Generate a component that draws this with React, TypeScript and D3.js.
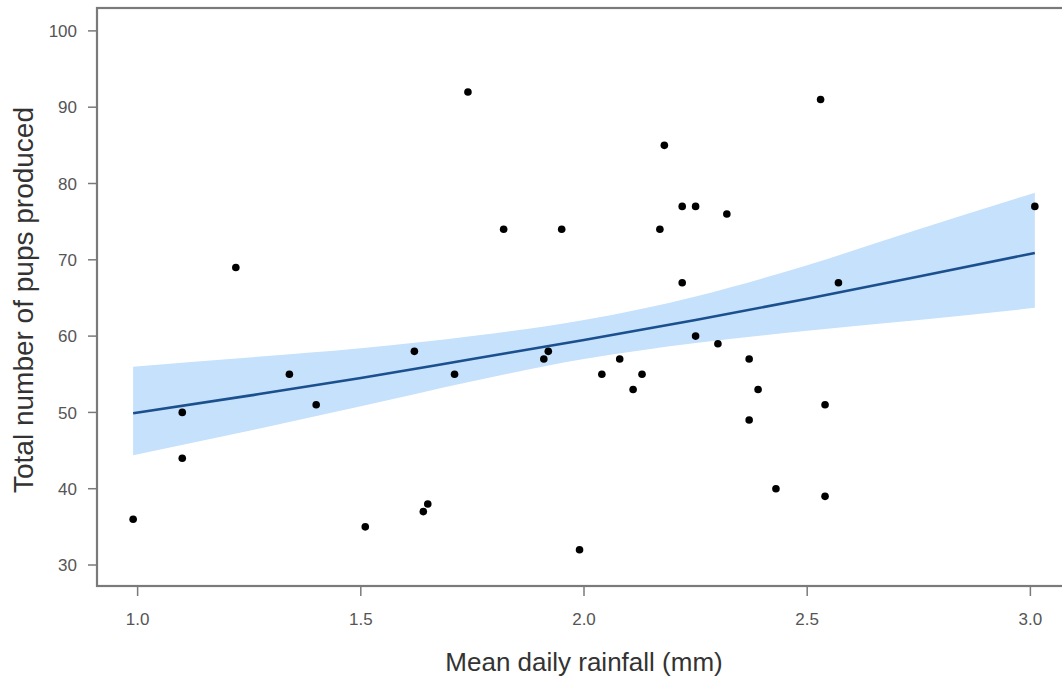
import React from "react";
import * as d3 from "d3";

// Observed data: mean daily rainfall (mm) vs total pups produced
const rainfall = [0.99, 1.10, 1.10, 1.22, 1.34, 1.40, 1.51, 1.62, 1.64, 1.65, 1.71, 1.74, 1.82, 1.91, 1.92, 1.95, 1.99, 2.04, 2.08, 2.11, 2.13, 2.17, 2.18, 2.22, 2.22, 2.25, 2.25, 2.30, 2.32, 2.37, 2.37, 2.39, 2.43, 2.53, 2.54, 2.54, 2.57, 3.01];
const pups = [36, 50, 44, 69, 55, 51, 35, 58, 37, 38, 55, 92, 74, 57, 58, 74, 32, 55, 57, 53, 55, 74, 85, 77, 67, 77, 60, 59, 76, 57, 49, 53, 40, 91, 51, 39, 67, 77];

// Fitted line and confidence band
const fitX = [0.99, 1.25, 1.5, 1.75, 2.0, 2.25, 2.5, 2.75, 3.01];
const fitY = [49.9, 52.2, 54.5, 57.0, 59.5, 62.1, 64.9, 67.8, 70.9];
const fitLower = [44.4, 47.6, 50.8, 54.1, 57.0, 59.1, 60.7, 62.1, 63.7];
const fitUpper = [56.0, 57.2, 58.4, 60.0, 62.1, 65.2, 69.3, 74.0, 78.8];

const xTicks = [1.0, 1.5, 2.0, 2.5, 3.0];
const yTicks = [30, 40, 50, 60, 70, 80, 90, 100];

const W = 1062;
const H = 680;
const left = 97;
const top = 8;
const bottom = 586;
const right = 1071;

export default function App() {
  const x = d3.scaleLinear().domain([0.909, 3.091]).range([left, right]);
  const y = d3.scaleLinear().domain([27.25, 103.0]).range([bottom, top]);

  const band = fitX.map((v, i) => ({ x: v, lo: fitLower[i], hi: fitUpper[i], f: fitY[i] }));
  const area = d3
    .area<any>()
    .x((d) => x(d.x))
    .y0((d) => y(d.lo))
    .y1((d) => y(d.hi))
    .curve(d3.curveMonotoneX);
  const line = d3
    .line<any>()
    .x((d) => x(d.x))
    .y((d) => y(d.f))
    .curve(d3.curveMonotoneX);

  const font = "'Liberation Sans', Arial, sans-serif";
  const axisColor = "#7a7a7a";
  const labelColor = "#555";

  return (
    <svg
      width={W}
      height={H}
      style={{ position: "absolute", left: 0, top: 0, background: "#fff" }}
      fontFamily={font}
    >
      <path d={area(band) || ""} fill="#c5e1fb" stroke="none" />
      <path d={line(band) || ""} fill="none" stroke="#1b4f8e" strokeWidth={2.6} />
      {rainfall.map((r, i) => (
        <circle key={i} cx={x(r)} cy={y(pups[i])} r={3.8} fill="#000" />
      ))}
      {/* frame */}
      <rect
        x={left}
        y={top}
        width={right - left}
        height={bottom - top}
        fill="none"
        stroke={axisColor}
        strokeWidth={2.2}
      />
      {/* y ticks */}
      {yTicks.map((t) => (
        <g key={t}>
          <line x1={left - 9} x2={left} y1={y(t)} y2={y(t)} stroke={axisColor} strokeWidth={1.5} />
          <text
            x={77}
            y={y(t)}
            dy="0.36em"
            textAnchor="end"
            fontSize={17}
            fill={labelColor}
          >
            {t}
          </text>
        </g>
      ))}
      {/* x ticks */}
      {xTicks.map((t) => (
        <g key={t}>
          <line x1={x(t)} x2={x(t)} y1={bottom} y2={bottom + 10} stroke={axisColor} strokeWidth={1.5} />
          <text x={x(t)} y={625} textAnchor="middle" fontSize={17} fill={labelColor}>
            {t.toFixed(1)}
          </text>
        </g>
      ))}
      <text x={584} y={671} textAnchor="middle" fontSize={26} fill="#333">
        Mean daily rainfall (mm)
      </text>
      <text
        transform={`translate(33,${300}) rotate(-90)`}
        textAnchor="middle"
        fontSize={28}
        fill="#333"
      >
        Total number of pups produced
      </text>
    </svg>
  );
}
